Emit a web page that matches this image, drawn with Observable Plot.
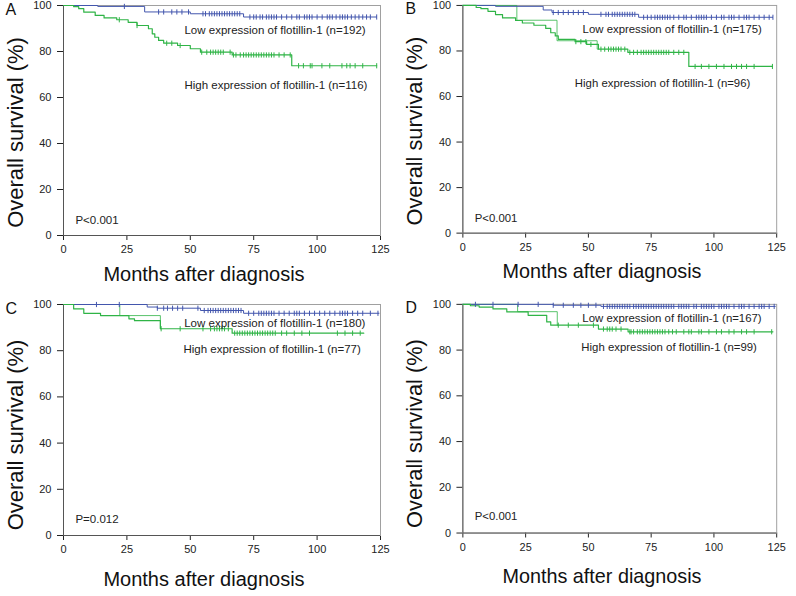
<!DOCTYPE html>
<html><head><meta charset="utf-8">
<script src="https://cdn.jsdelivr.net/npm/d3@7"></script>
<script src="https://cdn.jsdelivr.net/npm/@observablehq/plot@0.6"></script>
<style>
body{margin:0;background:#fff;}
#wrap{position:relative;width:796px;height:596px;font-family:"Liberation Sans",Arial,sans-serif;}
.panel{position:absolute;}
.panel svg{overflow:visible;}
</style></head><body><div id="wrap"></div>
<script>
// ---- tick labels / texts ----
const xTicks = [0, 25, 50, 75, 100, 125];
const yTicks = [0, 20, 40, 60, 80, 100];
const panelLetters = ["A", "B", "C", "D"];
const lowLabels = ["Low expression of flotillin-1 (n=192)", "Low expression of flotillin-1 (n=175)", "Low expression of flotillin-1 (n=180)", "Low expression of flotillin-1 (n=167)"];
const highLabels = ["High expression of flotillin-1 (n=116)", "High expression of flotillin-1 (n=96)", "High expression of flotillin-1 (n=77)", "High expression of flotillin-1 (n=99)"];
const pValues = ["P<0.001", "P<0.001", "P=0.012", "P<0.001"];
const yTitle = "Overall survival (%)";
const xTitle = "Months after diagnosis";

// ---- Panel A ----
const lowA_t = [0, 13.5, 32, 50, 71, 123.5];
const lowA_s = [100, 99.6, 97.2, 96.4, 95.0, 95.0];
const highA_t = [0, 4, 6, 8, 12.5, 16, 21, 25.5, 29, 33.5, 35, 36, 37.5, 39.5, 45, 50, 54, 66.5, 90, 123.5];
const highA_s = [100, 99.5, 98.6, 97.1, 95.7, 94.6, 93.8, 92.7, 91.3, 89.9, 87.7, 86.2, 84.8, 83.6, 82.6, 81.2, 79.7, 78.5, 73.8, 73.8];
const lowA_cens = [24, 37.5, 39.5, 42.7, 44.7, 46.7, 49.3, 55, 56, 57.5, 58.5, 59.5, 60.5, 61.5, 62.5, 63.5, 64.5, 65.5, 66.5, 67.5, 68.5, 69.5, 73.5, 75, 76, 77.5, 78.5, 80, 81, 82, 83, 84, 86, 88, 90, 92, 93, 95, 96, 97, 98, 100, 102, 104, 105, 106, 107.5, 109, 110, 111, 112, 113.5, 115, 116.5, 118, 119.5, 121, 123.5];
const highA_cens = [22, 29, 40.7, 42.7, 46, 54.5, 56.5, 58, 59, 60, 61, 62, 63, 65.7, 67, 68, 69.7, 71, 72, 73, 74, 75, 76, 77, 78, 79, 80, 81, 82, 83, 85, 87, 89.4, 92.7, 94.6, 97.3, 98, 101.9, 105, 109.8, 111.7, 113, 115, 118, 123.5];
const ghostA_t = [];
const ghostA_s = [];

// ---- Panel B ----
const lowB_t = [0, 13, 32, 35.5, 50, 70, 123.5];
const lowB_s = [100, 99.6, 98.0, 96.9, 96.1, 94.8, 94.8];
const highB_t = [0, 5.3, 7.2, 10, 13, 15.8, 21, 23.7, 28.3, 33, 35, 36.8, 38, 44.7, 49.3, 54, 65.7, 90, 123.3];
const highB_s = [100, 99.1, 98.6, 97.4, 96, 94.5, 93.4, 92.3, 91.3, 89.9, 88, 86.6, 85.1, 84.1, 82.9, 80.8, 79.4, 73.2, 73.2];
const lowB_cens = [36, 38, 40, 42, 44, 46, 48, 55, 57, 58, 59.5, 60.5, 61.5, 62.5, 63.5, 64.5, 65.5, 66.5, 67.5, 68.5, 72, 73.5, 75, 76.5, 77.5, 78.5, 79.5, 80.5, 81.5, 82.5, 84, 86, 88, 89, 91, 93, 94, 95, 96, 97, 99, 101, 103, 104, 106, 107, 108, 110, 112, 113, 114, 116, 118, 120, 122, 123.5];
const highB_cens = [45, 47, 49, 51, 55, 56.5, 58, 59, 60, 61, 62, 63, 64.5, 66.5, 68, 69.5, 71, 72, 73, 74, 75, 76, 77, 78, 79, 80, 81, 82, 84, 86, 88, 92.5, 95, 98, 101, 104, 107, 109, 111, 113, 116, 123.3];
const ghostB_t = [0, 21.5, 37.5, 53.5, 54];
const ghostB_s = [100, 93.5, 84.5, 80.8, 80.8];

// ---- Panel C ----
const lowC_t = [0, 33, 37, 54, 71, 124.5];
const lowC_s = [100, 98.9, 98.4, 97.4, 96.2, 96.2];
const highC_t = [0, 4, 8, 14.6, 25.8, 28, 38.2, 66.5, 118.4];
const highC_s = [100, 98.1, 96.2, 95.2, 93.8, 93.0, 89.5, 87.6, 87.6];
const lowC_cens = [13, 22, 37, 39.5, 41, 43, 45, 47, 53, 55.5, 57, 58, 59, 60, 61, 62, 63, 64, 65, 66, 67, 68, 69, 70, 73, 75, 77, 78, 79, 80, 81, 82, 83, 85, 87, 89, 91, 92, 93, 95, 97, 99, 101, 103, 105, 107, 109, 110, 111, 112, 114, 116, 118, 121, 124];
const highC_cens = [38.5, 46, 55, 58, 59.5, 60.5, 61.5, 62.5, 63.5, 65, 67.5, 68.5, 69.5, 70.5, 71.5, 72.5, 73.5, 74.5, 75.5, 76.5, 77.5, 78.5, 79.5, 80.5, 81.5, 82.5, 83.5, 86, 88, 91, 94, 97, 108, 111, 114, 117];
const ghostC_t = [0, 22.2, 38.2, 38.6];
const ghostC_s = [100, 95.2, 89.5, 89.5];

// ---- Panel D ----
const lowD_t = [0, 36, 55, 124.5];
const lowD_s = [100, 99.6, 99.1, 99.1];
const highD_t = [0, 3, 6.5, 12, 17.5, 26, 33.4, 35, 54, 65.8, 123.5];
const highD_s = [100, 99.4, 98.8, 98.0, 96.7, 95.2, 92.3, 90.9, 89.2, 88.0, 88.0];
const lowD_cens = [5, 12, 22, 30, 36, 40, 44, 47, 50, 53, 56, 57.5, 58.5, 59.5, 60.5, 61.5, 62.5, 63.5, 64.5, 65.5, 66.5, 68, 69, 70, 71, 72, 73, 74, 75, 76, 77, 78, 79, 80, 81, 82, 83, 84, 86, 87, 88, 89, 90, 92, 93, 95, 96, 97, 98, 99, 100, 102, 103, 104, 105, 106, 108, 110, 111, 112, 114, 116, 118, 119, 120, 122, 124];
const highD_cens = [38, 42, 46, 52, 56, 57.5, 58.5, 59.5, 61, 63, 66.5, 67, 68, 69.5, 70.5, 71.5, 72.5, 73.5, 74.5, 75.5, 76.5, 77.5, 78.5, 79.5, 80.5, 82, 83.5, 85, 88, 90, 91, 94, 95, 98, 101, 103, 106, 108, 111, 113, 116, 123];
const ghostD_t = [0, 21.8, 37.6, 38];
const ghostD_s = [100, 96.8, 90.9, 90.9];

// annotation anchor positions (data units: months, %)
const lowLabelPos = [[47.7, 89.0], [47.7, 89.3], [47.6, 91.8], [47.6, 93.7]];
const highLabelPos = [[47.7, 65.3], [44.6, 65.8], [47.3, 80.5], [47.2, 81.0]];
const pPos = [[4.7, 6.4], [4.7, 6.4], [4.7, 6.8], [4.7, 7.2]];

const BLUE = "#4356ad";
const GREEN = "#2fb446";

const series = [
  {low: [lowA_t, lowA_s, lowA_cens], high: [highA_t, highA_s, highA_cens], ghost: [ghostA_t, ghostA_s]},
  {low: [lowB_t, lowB_s, lowB_cens], high: [highB_t, highB_s, highB_cens], ghost: [ghostB_t, ghostB_s]},
  {low: [lowC_t, lowC_s, lowC_cens], high: [highC_t, highC_s, highC_cens], ghost: [ghostC_t, ghostC_s]},
  {low: [lowD_t, lowD_s, lowD_cens], high: [highD_t, highD_s, highD_cens], ghost: [ghostD_t, ghostD_s]}
];

const layout = [
  {left: 0, top: 0, height: 290, mt: 5, mb: 55, xlabDy: 38.6, ylabDy: 12},
  {left: 400, top: 0, height: 290, mt: 5, mb: 55, xlabDy: 38.6, ylabDy: 12},
  {left: 0, top: 290, height: 306, mt: 14, mb: 61, xlabDy: 43.6, ylabDy: 15},
  {left: 400, top: 290, height: 306, mt: 14, mb: 61, xlabDy: 43.6, ylabDy: 15}
];

const tickSymbol = {
  draw(ctx, size) {
    const h = Math.sqrt(size / Math.PI);
    ctx.moveTo(0, -h); ctx.lineTo(0, h);
  }
};

const toRows = (t, s) => t.map((x, i) => ({t: x, s: s[i]}));
function survAt(t, s, x) {
  let v = s[0];
  for (let i = 0; i < t.length; i++) if (t[i] <= x) v = s[i];
  return v;
}
const censRows = (t, s, c) => c.map(x => ({t: x, s: survAt(t, s, x)}));

const wrap = document.getElementById("wrap");
series.forEach((d, i) => {
  const L = layout[i];
  const plot = Plot.plot({
    width: 400, height: L.height,
    marginTop: L.mt, marginBottom: L.mb, marginLeft: 63, marginRight: 20,
    style: {fontFamily: '"Liberation Sans", Arial, sans-serif', fontSize: "11px", color: "#222", background: "transparent"},
    x: {domain: [0, 125], ticks: xTicks, tickSize: 5, tickPadding: 5, label: null, line: false},
    y: {domain: [0, 100], ticks: yTicks, tickSize: 6, tickPadding: 6, label: null, line: false},
    marks: [
      Plot.frame({stroke: "#a0a0a0"}),
      Plot.ruleX([0], {stroke: "#555"}),
      Plot.ruleY([0], {stroke: "#555"}),
      Plot.line(toRows(d.ghost[0], d.ghost[1]), {x: "t", y: "s", curve: "step-after", stroke: GREEN, strokeWidth: 0.8}),
      Plot.line(toRows(d.low[0], d.low[1]), {x: "t", y: "s", curve: "step-after", stroke: BLUE, strokeWidth: 1}),
      Plot.line(toRows(d.high[0], d.high[1]), {x: "t", y: "s", curve: "step-after", stroke: GREEN, strokeWidth: 1.2}),
      Plot.dot(censRows(d.low[0], d.low[1], d.low[2]), {x: "t", y: "s", symbol: tickSymbol, r: 2.6, stroke: BLUE, fill: "none", strokeWidth: 1}),
      Plot.dot(censRows(d.high[0], d.high[1], d.high[2]), {x: "t", y: "s", symbol: tickSymbol, r: 2.6, stroke: GREEN, fill: "none", strokeWidth: 1}),
      Plot.text([lowLabels[i]], {x: lowLabelPos[i][0], y: lowLabelPos[i][1], textAnchor: "start", lineAnchor: "middle", fontSize: 11.5, fill: "#222"}),
      Plot.text([highLabels[i]], {x: highLabelPos[i][0], y: highLabelPos[i][1], textAnchor: "start", lineAnchor: "middle", fontSize: 11.5, fill: "#222"}),
      Plot.text([pValues[i]], {x: pPos[i][0], y: pPos[i][1], textAnchor: "start", lineAnchor: "middle", fontSize: 11.5, fill: "#222"}),
      Plot.text([yTitle], {frameAnchor: "left", rotate: -90, dx: -48, dy: L.ylabDy, textAnchor: "middle", lineAnchor: "middle", fontSize: 22, fill: "#111"}),
      Plot.text([xTitle], {frameAnchor: "bottom", dx: -18, dy: L.xlabDy, textAnchor: "middle", lineAnchor: "middle", fontSize: 20, fill: "#111"}),
      Plot.text([panelLetters[i]], {frameAnchor: "top-left", dx: -58, dy: 4, fontSize: 16, textAnchor: "start", lineAnchor: "middle", fill: "#111"})
    ]
  });
  const div = document.createElement("div");
  div.className = "panel";
  div.style.left = L.left + "px";
  div.style.top = L.top + "px";
  div.appendChild(plot);
  wrap.appendChild(div);
});
</script>
</body></html>
